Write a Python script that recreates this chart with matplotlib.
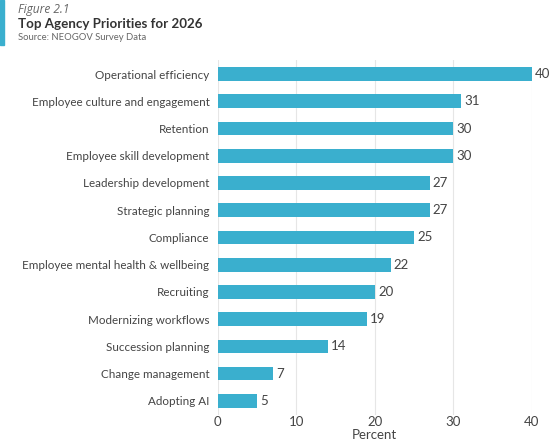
import matplotlib
matplotlib.use("Agg")
import matplotlib.pyplot as plt
from matplotlib.patches import Rectangle

# --- Data ---
categories = [
    "Operational efficiency",
    "Employee culture and engagement",
    "Retention",
    "Employee skill development",
    "Leadership development",
    "Strategic planning",
    "Compliance",
    "Employee mental health & wellbeing",
    "Recruiting",
    "Modernizing workflows",
    "Succession planning",
    "Change management",
    "Adopting AI",
]
values = [40, 31, 30, 30, 27, 27, 25, 22, 20, 19, 14, 7, 5]
x_ticks = [0, 10, 20, 30, 40]

BAR_COLOR = "#3AAFCE"
TEXT_COLOR = "#444444"

plt.rcParams["font.family"] = ["Lato", "DejaVu Sans"]

fig = plt.figure(figsize=(5.5, 4.41), dpi=100)
ax = fig.add_axes([0.396, 0.060, 0.571, 0.803])

y = list(range(len(categories)))
ax.barh(y, values, height=0.5, color=BAR_COLOR, zorder=3)
for yi, v in zip(y, values):
    ax.text(v + 0.4, yi, str(v), va="center", ha="left", fontsize=9.5,
            color=TEXT_COLOR, clip_on=False)

ax.set_xlim(0, 40)
ax.set_ylim(len(categories) - 0.5, -0.5)
ax.set_yticks(y)
ax.set_yticklabels(categories, fontsize=8.4, color=TEXT_COLOR)
ax.set_xticks(x_ticks)
ax.set_xticklabels([str(t) for t in x_ticks], fontsize=9.5, color=TEXT_COLOR)
ax.set_xlabel("Percent", fontsize=9.5, color=TEXT_COLOR, labelpad=1)
ax.tick_params(axis="y", length=0, pad=6)
ax.tick_params(axis="x", length=0, pad=1)
ax.grid(axis="x", color="#e6e6e6", linewidth=0.8, zorder=0)
for s in ax.spines.values():
    s.set_visible(False)

# --- Header ---
fig.patches.append(Rectangle((0, 1 - 45 / 441), 4 / 550, 45 / 441,
                             transform=fig.transFigure, color=BAR_COLOR))
fig.text(18 / 550, 1 - 10 / 441, "Figure 2.1", fontsize=8.6, style="italic",
         color="#666666", va="center", family=["Open Sans", "DejaVu Sans"])
fig.text(18 / 550, 1 - 24 / 441, "Top Agency Priorities for 2026", fontsize=9.6,
         weight="bold", color="#333333", va="center")
fig.text(18 / 550, 1 - 38 / 441, "Source: NEOGOV Survey Data", fontsize=6.8,
         color="#666666", va="center")

fig.savefig("out.png", dpi=100)
